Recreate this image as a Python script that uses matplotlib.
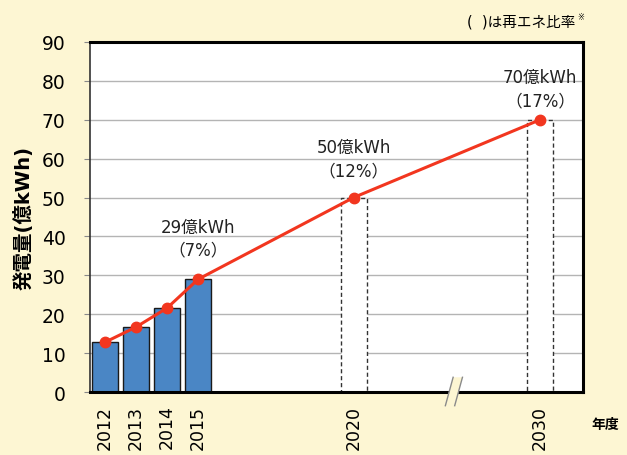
import matplotlib
matplotlib.use("Agg")
import matplotlib.pyplot as plt
from matplotlib.patches import Polygon
import numpy as np

plt.rcParams["font.family"] = ["DejaVu Sans", "Noto Sans CJK JP"]

# ── data ──────────────────────────────────────────────────────────────────────
years_actual = ["2012", "2013", "2014", "2015"]
gen_actual   = [12.8, 16.7, 21.6, 29.0]
years_target = ["2020", "2030"]
gen_target   = [50.0, 70.0]
callout_years = ["2015", "2020", "2030"]
callout_text  = ["29億kWh\n（7%）", "50億kWh\n（12%）", "70億kWh\n（17%）"]

# x positions on a compressed axis (2020→2030 span is shortened by the break)
x_actual = np.array([0, 1, 2, 3])
x_target = np.array([8, 14])
x_break  = 11.1
callout_lift = [10.5, 10.0, 8.0]   # text block centre above the point, in kWh units

BG   = "#fdf6d3"
BLUE = "#4a86c5"
RED  = "#f2361f"

fig = plt.figure(figsize=(6.27, 4.56), dpi=100, facecolor=BG)
ax = fig.add_axes([0.1435, 0.138, 0.786, 0.768])
ax.set_facecolor("white")

ax.set_xlim(-0.48, 15.37)
ax.set_ylim(0, 90)
ax.set_yticks(range(0, 91, 10))
ax.yaxis.grid(True, color="#b4b4b4", linewidth=1.0)
ax.set_axisbelow(True)

ax.bar(x_actual, gen_actual, width=0.84, color=BLUE, edgecolor="#1a1a1a",
       linewidth=1.0, zorder=2)
ax.bar(x_target, gen_target, width=0.84, color="white", edgecolor="#333333",
       linewidth=1.0, linestyle=(0, (3, 2)), zorder=2)

xs = np.concatenate([x_actual, x_target])
ys = np.array(gen_actual + gen_target)
years_all = years_actual + years_target
ax.plot(xs, ys, color=RED, linewidth=2.2, marker="o", markersize=7.5, zorder=4)

for yr, txt, lift in zip(callout_years, callout_text, callout_lift):
    i = years_all.index(yr)
    ax.text(xs[i], ys[i] + lift, txt, ha="center", va="center", fontsize=12,
            color="#222222", linespacing=1.35, zorder=5)

ax.set_xticks(xs)
ax.set_xticklabels(years_all, rotation=90, va="top", fontsize=12.5)
ax.tick_params(axis="x", length=0, pad=9)
ax.tick_params(axis="y", labelsize=13.5, length=4.5, color="#888888", pad=13)

for side in ("top", "right", "bottom"):
    ax.spines[side].set_linewidth(2.2)
    ax.spines[side].set_color("black")
ax.spines["left"].set_linewidth(1.2)
ax.spines["left"].set_color("#333333")

ax.set_ylabel("発電量(億kWh)", fontsize=14, fontweight="bold", labelpad=6)

# axis break mark
brk = Polygon([(x_break - 0.15, -3.5), (x_break + 0.15, -3.5),
               (x_break + 0.40, 3.8), (x_break + 0.10, 3.8)],
              closed=True, facecolor=BG, edgecolor="none", clip_on=False, zorder=6)
ax.add_patch(brk)
for dx in (0.0, 0.30):
    ax.plot([x_break - 0.15 + dx, x_break + 0.10 + dx], [-3.5, 3.8],
            color="#8a8a8a", linewidth=1.0, clip_on=False, zorder=7)

fig.text(0.965, 0.068, "年度", fontsize=10, fontweight="bold", ha="center", va="center")
fig.text(0.918, 0.952, "(  )は再エネ比率", fontsize=10.5, ha="right", va="center")
fig.text(0.920, 0.962, "※", fontsize=6, ha="left", va="center")

fig.savefig("out.png", dpi=100, facecolor=BG)
